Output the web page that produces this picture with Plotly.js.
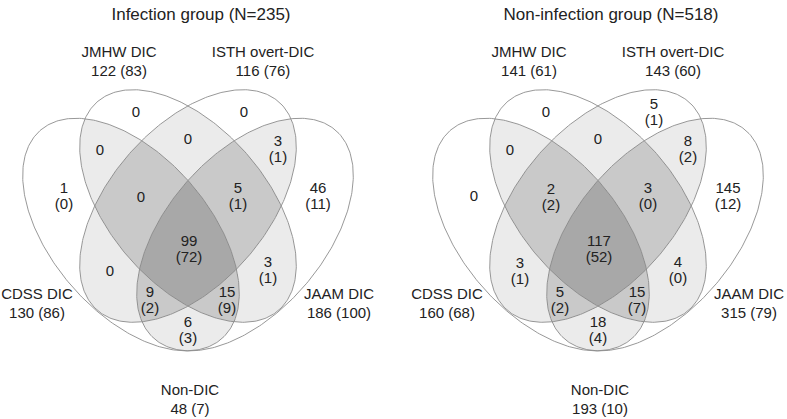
<!DOCTYPE html>
<html><head><meta charset="utf-8">
<script src="https://cdn.plot.ly/plotly-3.0.1.min.js"></script>
<style>html,body{margin:0;padding:0;background:#fff}#chart{width:787px;height:419px}</style>
</head><body><div id="chart"></div>
<script>
// ---------- data ----------
const panelTitles = ['Infection group (N=235)', 'Non-infection group (N=518)'];
const setNames = ['JMHW DIC', 'ISTH overt-DIC', 'CDSS DIC', 'JAAM DIC', 'Non-DIC'];
const infSetTotals = [122, 116, 130, 186, 48];
const infSetParen  = [83, 76, 86, 100, 7];
const nonSetTotals = [141, 143, 160, 315, 193];
const nonSetParen  = [61, 60, 68, 79, 10];
// regions (CDSS, JMHW, ISTH, JAAM membership)
const regionKeys = ['JMHW', 'ISTH', 'CDSS', 'JAAM', 'CDSS&JMHW', 'JMHW&ISTH', 'ISTH&JAAM',
  'CDSS&JMHW&ISTH', 'JMHW&ISTH&JAAM', 'ALL', 'CDSS&ISTH', 'JMHW&JAAM', 'CDSS&ISTH&JAAM',
  'CDSS&JMHW&JAAM', 'CDSS&JAAM'];
const infRegionN = [0, 0, 1, 46, 0, 0, 3, 0, 5, 99, 0, 3, 9, 15, 6];
const infRegionP = [0, 0, 0, 11, 0, 0, 1, 0, 1, 72, 0, 1, 2, 9, 3];
const nonRegionN = [0, 5, 0, 145, 0, 0, 8, 2, 3, 117, 3, 4, 5, 15, 18];
const nonRegionP = [0, 1, 0, 12, 0, 0, 2, 2, 0, 52, 1, 0, 2, 7, 4];

// ---------- layout geometry ----------
const PANEL_CX = [188, 598];
const SX = 380, SY = 408, CY_PX = 206, CY_MODEL = 0.57;
const ELLIPSES = [ // CDSS, JMHW, ISTH, JAAM
  {cx: 0.35, cy: 0.50, a: 0.35, b: 0.2, rot: -45},
  {cx: 0.50, cy: 0.57, a: 0.35, b: 0.2, rot: -45},
  {cx: 0.50, cy: 0.57, a: 0.35, b: 0.2, rot: 45},
  {cx: 0.65, cy: 0.50, a: 0.35, b: 0.2, rot: 45}
];
const REGION_POS = [[-52,113],[56,113],[-124,197],[130,197],[-88,151],[0,140],[90,150],
  [-47,198],[50,197],[1,250],[-78,272],[80,271],[-38,301],[39,301],[0,331]];
const SET_POS = [[-69,53],[75,53],[-151,295],[151,295],[2,391]];
const TITLE_POS = [13, 16];

function toPx(panel, mx, my) {
  return [PANEL_CX[panel] + (mx - 0.5) * SX, CY_PX + (CY_MODEL - my) * SY];
}
function inside(e, mx, my) {
  const t = e.rot * Math.PI / 180;
  const dx = mx - e.cx, dy = my - e.cy;
  const u = dx * Math.cos(t) + dy * Math.sin(t);
  const v = -dx * Math.sin(t) + dy * Math.cos(t);
  return (u * u) / (e.a * e.a) + (v * v) / (e.b * e.b) <= 1;
}

const traces = [];

// shading by overlap depth
const hx = [], hy = [], hz = [];
for (let i = 0; i < 787; i++) hx.push(i + 0.5);
for (let j = 60; j < 380; j++) {
  const py = j + 0.5;
  hy.push(py);
  const row = [];
  for (let i = 0; i < 787; i++) {
    const px = i + 0.5;
    const panel = px < 393 ? 0 : 1;
    const mx = 0.5 + (px - PANEL_CX[panel]) / SX;
    const my = CY_MODEL - (py - CY_PX) / SY;
    let c = 0;
    for (const e of ELLIPSES) if (inside(e, mx, my)) c++;
    row.push(c);
  }
  hz.push(row);
}
traces.push({
  type: 'heatmap', x: hx, y: hy, z: hz, zmin: 0, zmax: 4, zsmooth: false,
  colorscale: [[0, '#ffffff'], [0.25, '#ffffff'], [0.5, '#ebebeb'], [0.75, '#c9c9c9'], [1, '#a8a8a8']],
  showscale: false, hoverinfo: 'skip'
});

// ellipse outlines
for (let p = 0; p < 2; p++) {
  for (const e of ELLIPSES) {
    const xs = [], ys = [];
    const t = e.rot * Math.PI / 180;
    for (let k = 0; k <= 360; k++) {
      const s = k * Math.PI / 180;
      const mx = e.cx + e.a * Math.cos(s) * Math.cos(t) - e.b * Math.sin(s) * Math.sin(t);
      const my = e.cy + e.a * Math.cos(s) * Math.sin(t) + e.b * Math.sin(s) * Math.cos(t);
      const q = toPx(p, mx, my);
      xs.push(q[0]); ys.push(q[1]);
    }
    traces.push({type: 'scatter', mode: 'lines', x: xs, y: ys,
      line: {color: '#8c8c8c', width: 0.9}, hoverinfo: 'skip'});
  }
}

// text
const FONT = 'Liberation Sans, Arial, sans-serif';
const TXT = '#222222';
const panels = [
  {n: infRegionN, p: infRegionP, st: infSetTotals, sp: infSetParen},
  {n: nonRegionN, p: nonRegionP, st: nonSetTotals, sp: nonSetParen}
];
const LINE = 15.5;
for (let pi = 0; pi < 2; pi++) {
  const P = panels[pi];
  const tx = [], ty = [], tt = [];
  P.n.forEach((n, i) => {
    const x = PANEL_CX[pi] + REGION_POS[i][0], y = REGION_POS[i][1];
    if (n === 0) { tx.push(x); ty.push(y); tt.push(String(n)); }
    else {
      tx.push(x); ty.push(y - LINE / 2); tt.push(String(n));
      tx.push(x); ty.push(y + LINE / 2); tt.push('(' + P.p[i] + ')');
    }
  });
  setNames.forEach((nm, i) => {
    const x = PANEL_CX[pi] + SET_POS[i][0], y = SET_POS[i][1];
    tx.push(x); ty.push(y); tt.push(nm);
    tx.push(x); ty.push(y + 19); tt.push(P.st[i] + ' (' + P.sp[i] + ')');
  });
  traces.push({type: 'scatter', mode: 'text', x: tx, y: ty, text: tt,
    textposition: 'middle center', textfont: {family: FONT, size: 15, color: TXT}, hoverinfo: 'skip'});
  traces.push({type: 'scatter', mode: 'text', x: [PANEL_CX[pi] + TITLE_POS[0]], y: [TITLE_POS[1]],
    text: [panelTitles[pi]], textposition: 'middle center',
    textfont: {family: FONT, size: 17, color: TXT}, hoverinfo: 'skip'});
}

const layout = {
  width: 787, height: 419, margin: {l: 0, r: 0, t: 0, b: 0},
  paper_bgcolor: '#ffffff', plot_bgcolor: '#ffffff', showlegend: false,
  xaxis: {range: [0, 787], visible: false, fixedrange: true},
  yaxis: {range: [419, 0], visible: false, fixedrange: true},
  hovermode: false
};
Plotly.newPlot('chart', traces, layout, {staticPlot: true, displayModeBar: false});
</script>
</body></html>
